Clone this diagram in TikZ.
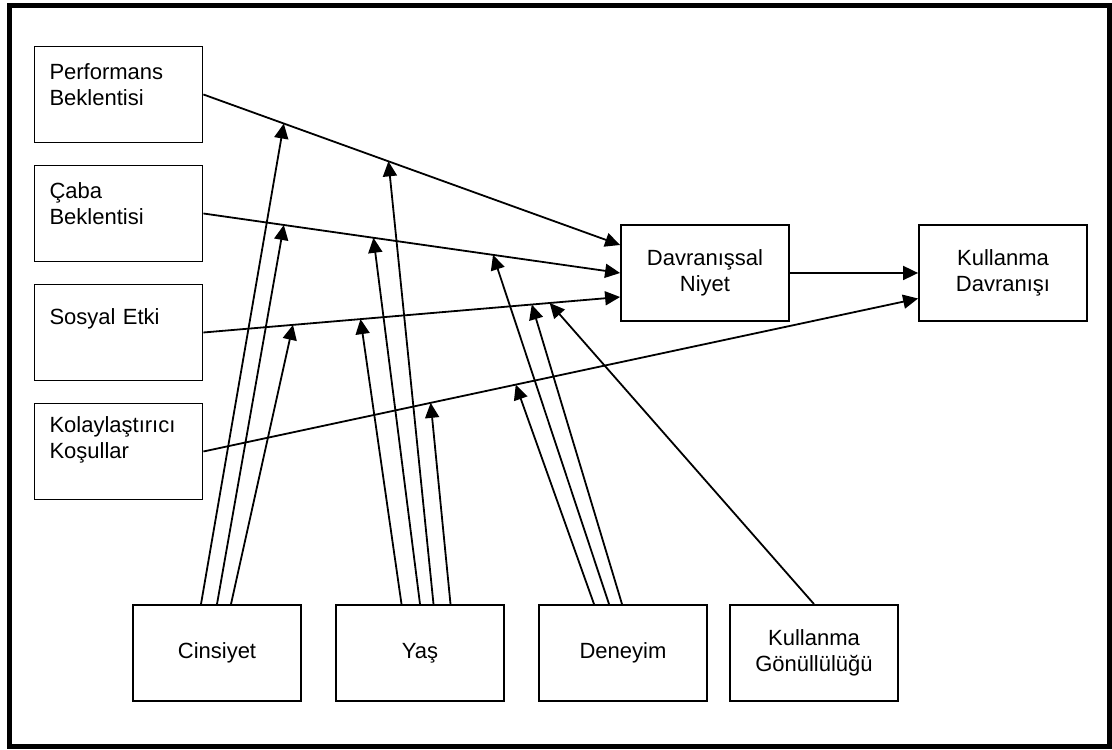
\documentclass[tikz,border=0pt]{standalone}
\usepackage{fontspec}
\setmainfont{Liberation Sans}
\usepackage{tikz}
\usetikzlibrary{positioning,arrows.meta}

\begin{document}
\begin{tikzpicture}[x=1pt, y=1pt,
        >={Triangle[length=7.5pt,width=7pt]},
        FactorStyle/.style = { rectangle, draw, line width=.9pt,
          text width=69pt, align=left, inner xsep=7.5pt, inner ysep=0pt,
          text height=16.5pt, text depth=31.5pt,
          font = \fontsize{11}{13}\selectfont },
        BoxStyle/.style = { rectangle, draw, line width=.9pt,
          minimum width=84pt, minimum height=48pt, align=center,
          font = \fontsize{11}{13}\selectfont },
        EdgeStyle/.style = {->, line width=.9pt}
      ]
      \useasboundingbox (0,0) rectangle (556,374.5);
      \draw[line width=2.5pt] (4.75,1.25) rectangle (554.75,371.5);
      \node[FactorStyle] (PB) at (59.25,327.25) {Performans\\Beklentisi};
      \node[FactorStyle, below=10.6pt of PB] (CB) {Çaba\\Beklentisi};
      \node[FactorStyle, below=10.6pt of CB, text height=20pt, text depth=28pt] (SE) {Sosyal Etki};
      \node[FactorStyle, below=10.6pt of SE, text height=14.5pt, text depth=33.5pt] (KK) {Kolaylaştırıcı\\Koşullar};
      \node[BoxStyle] (DN) at (352.5,238) {Davranışsal\\Niyet};
      \node[BoxStyle, right=64.1pt of DN] (KD) {Kullanma\\Davranışı};
      \node[BoxStyle] (CIN) at (108.5,48) {Cinsiyet};
      \node[BoxStyle, right=16.6pt of CIN] (YAS) {Yaş};
      \node[BoxStyle, right=16.6pt of YAS] (DEN) {Deneyim};
      \node[BoxStyle, right=10.6pt of DEN] (KG) {Kullanma\\Gönüllülüğü};
      \draw[EdgeStyle] (PB.east) -- coordinate[pos=.193] (PB1) coordinate[pos=.444] (PB2) ([yshift=14pt]DN.west);
      \draw[EdgeStyle] (CB.east) -- coordinate[pos=.193] (CB1) coordinate[pos=.408] (CB2) coordinate[pos=.695] (CB3) (DN.west);
      \draw[EdgeStyle] (SE.east) -- coordinate[pos=.215] (SE1) coordinate[pos=.377] (SE2) coordinate[pos=.788] (SE3) coordinate[pos=.831] (SE4) ([yshift=-12pt]DN.west);
      \draw[EdgeStyle] (KK.east) -- coordinate[pos=.318] (KK1) coordinate[pos=.437] (KK2) ([yshift=-12.75pt]KD.west);
      \draw[EdgeStyle] (DN) -- (KD);
      \draw[EdgeStyle] ([xshift=-8pt]CIN.north) -- (PB1);
      \draw[EdgeStyle] (CIN.north) -- (CB1);
      \draw[EdgeStyle] ([xshift=7pt]CIN.north) -- (SE1);
      \draw[EdgeStyle] ([xshift=-9.25pt]YAS.north) -- (SE2);
      \draw[EdgeStyle] (YAS.north) -- (CB2);
      \draw[EdgeStyle] ([xshift=6.75pt]YAS.north) -- (PB2);
      \draw[EdgeStyle] ([xshift=15.25pt]YAS.north) -- (KK1);
      \draw[EdgeStyle] ([xshift=-14.5pt]DEN.north) -- (KK2);
      \draw[EdgeStyle] ([xshift=-7pt]DEN.north) -- (CB3);
      \draw[EdgeStyle] ([xshift=-.5pt]DEN.north) -- (SE3);
      \draw[EdgeStyle] (KG.north) -- (SE4);
    \end{tikzpicture}
\end{document}
